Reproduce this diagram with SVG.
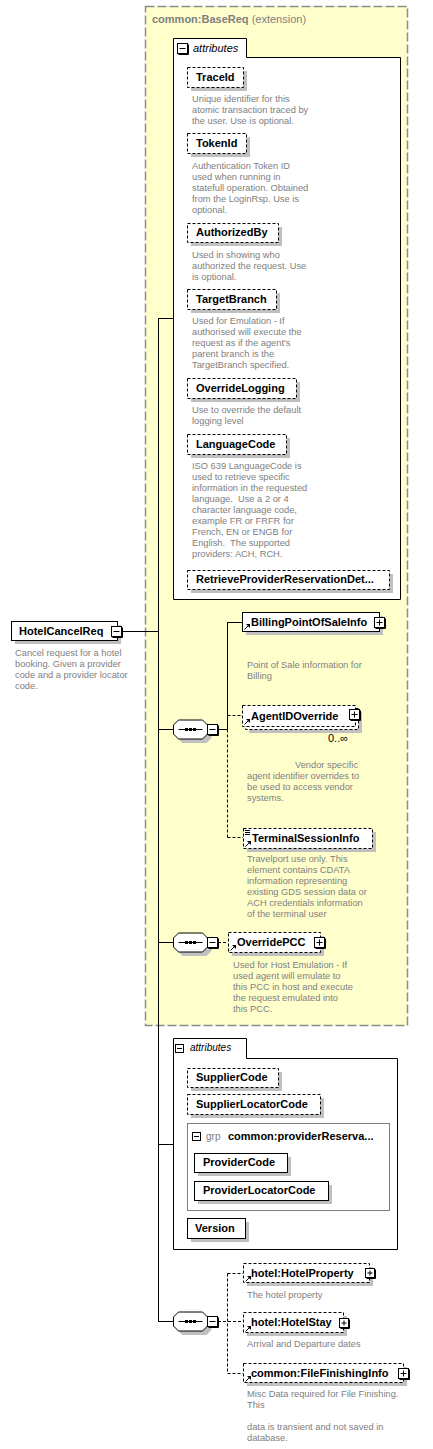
<svg xmlns="http://www.w3.org/2000/svg" xmlns:xlink="http://www.w3.org/1999/xlink" width="433" height="1449" viewBox="0 0 433 1449">
<style>
.lbl{font-family:"Liberation Sans",Arial,sans-serif;font-size:11px;font-weight:bold;fill:#000}
.desc{font-family:"Liberation Sans",Arial,sans-serif;font-size:9.3px;fill:#808080}
.sh{fill:#C0C0C0}
.opt{fill:#fff;stroke:#000;stroke-width:1;stroke-dasharray:3,2}
.req{fill:#fff;stroke:#000;stroke-width:1}
.ln{fill:none;stroke:#000;stroke-width:1}
.dln{fill:none;stroke:#000;stroke-width:1;stroke-dasharray:3,2}
.attr{fill:#fff;stroke:#000;stroke-width:1}
.ital{font-family:"Liberation Sans",Arial,sans-serif;font-size:11px;font-style:italic;fill:#000}
</style>
<defs>
<g id="minus"><rect x="0.5" y="0.5" width="10" height="10" fill="#fff" stroke="#000"/><path d="M2.5,5.5 H8.5" stroke="#000"/><path d="M11.5,1.5 V11.5 H1.5" fill="none" stroke="#000"/></g>
<g id="plus"><rect x="0.5" y="0.5" width="10" height="10" fill="#fff" stroke="#000"/><path d="M2.5,5.5 H8.5 M5.5,2.5 V8.5" stroke="#000"/><path d="M11.5,1.5 V11.5 H1.5" fill="none" stroke="#000"/></g>
<g id="plusS"><rect x="0.5" y="0.5" width="9" height="9" fill="#fff" stroke="#000"/><path d="M2.5,5 H7.5 M5,2.5 V7.5" stroke="#000"/><path d="M10.5,1.5 V10.5 H1.5" fill="none" stroke="#000"/></g>
<g id="minusS"><rect x="0.5" y="0.5" width="8" height="8" fill="#fff" stroke="#000"/><path d="M2,4.5 H7" stroke="#000"/></g>
<g id="ref"><path d="M0.5,5.5 L4.5,1.5" stroke="#000" fill="none"/><path d="M2,0 H6 V4 Z" fill="#000"/></g>
<g id="seq">
<polygon points="9,4 33,4 38,9 38,18 33,23 9,23 4,18 4,9" fill="#C0C0C0"/>
<polygon points="5,0 29,0 34,5 34,14 29,19 5,19 0,14 0,5" fill="#fff" stroke="#000"/>
<path d="M5,9.5 H29" stroke="#000"/>
<rect x="11.5" y="8" width="3" height="3" fill="#000"/><rect x="15.5" y="8" width="3" height="3" fill="#000"/><rect x="19.5" y="8" width="3" height="3" fill="#000"/>
</g>
</defs>

<rect x="0" y="0" width="433" height="1449" fill="#fff"/>

<g id="BaseReq">
<rect x="145.5" y="6.5" width="262" height="1019" fill="#FFFFCC" stroke="#8c8c8c" stroke-width="1.5" stroke-dasharray="9,3"/>
<text x="152" y="23" style="font-family:'Liberation Sans',Arial,sans-serif;font-size:11px;fill:#808080"><tspan font-weight="bold">common:BaseReq</tspan> (extension)</text>
</g>

<g id="connectors">
<path class="ln" d="M158.5,318 V1321.5 M158,318.5 H173 M122,631.5 H158 M158,729.5 H174 M218,729.5 H227.5 M227.5,622.5 V729.5 M227,622.5 H242"/>
<path class="dln" d="M227.5,729.5 V837.5 M227.5,715.5 H242 M227.5,837.5 H243"/>
<path class="ln" d="M158,942.5 H174"/>
<path class="dln" d="M218,942.5 H228"/>
<path class="ln" d="M158,1144.5 H173 M158,1321.5 H174"/>
<path class="dln" d="M218,1321.5 H243 M227.5,1273.5 V1373.5 M227.5,1273.5 H243 M227.5,1373.5 H243"/>
</g>

<g id="attributes1">
<path class="attr" d="M173.5,599.5 V38.5 H246.5 V57.5 H400.5 V599.5 Z"/>
<use xlink:href="#minus" x="177" y="43"/>
<text class="ital" x="193" y="52">attributes</text>
</g>

<g id="TraceId">
<rect class="sh" x="191" y="71" width="56" height="20"/>
<rect class="opt" x="187.5" y="67.5" width="56" height="20"/>
<text class="lbl" x="196" y="81">TraceId</text>
<text class="desc" x="192" y="102"><tspan x="192">Unique identifier for this</tspan><tspan x="192" dy="11">atomic transaction traced by</tspan><tspan x="192" dy="11">the user. Use is optional.</tspan></text>
</g>

<g id="TokenId">
<rect class="sh" x="191" y="137" width="59" height="20"/>
<rect class="opt" x="187.5" y="133.5" width="59" height="20"/>
<text class="lbl" x="196" y="147">TokenId</text>
<text class="desc" y="169"><tspan x="192">Authentication Token ID</tspan><tspan x="192" dy="11">used when running in</tspan><tspan x="192" dy="11">statefull operation. Obtained</tspan><tspan x="192" dy="11">from the LoginRsp. Use is</tspan><tspan x="192" dy="11">optional.</tspan></text>
</g>

<g id="AuthorizedBy">
<rect class="sh" x="191" y="227" width="91" height="19"/>
<rect class="opt" x="187.5" y="223.5" width="91" height="19"/>
<text class="lbl" x="196" y="236">AuthorizedBy</text>
<text class="desc" y="258"><tspan x="192">Used in showing who</tspan><tspan x="192" dy="11">authorized the request. Use</tspan><tspan x="192" dy="11">is optional.</tspan></text>
</g>

<g id="TargetBranch">
<rect class="sh" x="191" y="293" width="89" height="20"/>
<rect class="opt" x="187.5" y="289.5" width="89" height="20"/>
<text class="lbl" x="196" y="303">TargetBranch</text>
<text class="desc" y="324"><tspan x="192">Used for Emulation - If</tspan><tspan x="192" dy="11">authorised will execute the</tspan><tspan x="192" dy="11">request as if the agent's</tspan><tspan x="192" dy="11">parent branch is the</tspan><tspan x="192" dy="11">TargetBranch specified.</tspan></text>
</g>

<g id="OverrideLogging">
<rect class="sh" x="191" y="382" width="109" height="20"/>
<rect class="opt" x="187.5" y="378.5" width="109" height="20"/>
<text class="lbl" x="196" y="392">OverrideLogging</text>
<text class="desc" y="413"><tspan x="192">Use to override the default</tspan><tspan x="192" dy="11">logging level</tspan></text>
</g>

<g id="LanguageCode">
<rect class="sh" x="191" y="438" width="99" height="20"/>
<rect class="opt" x="187.5" y="434.5" width="99" height="20"/>
<text class="lbl" x="196" y="448">LanguageCode</text>
<text class="desc" y="469" xml:space="preserve"><tspan x="192">ISO 639 LanguageCode is</tspan><tspan x="192" dy="11">used to retrieve specific</tspan><tspan x="192" dy="11">information in the requested</tspan><tspan x="192" dy="11">language.  Use a 2 or 4</tspan><tspan x="192" dy="11">character language code,</tspan><tspan x="192" dy="11">example FR or FRFR for</tspan><tspan x="192" dy="11">French, EN or ENGB for</tspan><tspan x="192" dy="11">English.  The supported</tspan><tspan x="192" dy="11">providers: ACH, RCH.</tspan></text>
</g>

<g id="RetrieveProviderReservationDetails">
<rect class="sh" x="191" y="574" width="202" height="19"/>
<rect class="opt" x="187.5" y="570.5" width="202" height="19"/>
<text class="lbl" x="196" y="583">RetrieveProviderReservationDet...</text>
</g>

<g id="HotelCancelReq">
<rect class="sh" x="15" y="625" width="106" height="19"/>
<rect class="req" x="11.5" y="621.5" width="106" height="19"/>
<text class="lbl" x="19" y="635">HotelCancelReq</text>
<use xlink:href="#minus" x="111" y="626"/>
<text class="desc" y="656"><tspan x="15">Cancel request for a hotel</tspan><tspan x="15" dy="11">booking. Given a provider</tspan><tspan x="15" dy="11">code and a provider locator</tspan><tspan x="15" dy="11">code.</tspan></text>
</g>

<g id="sequence1">
<use xlink:href="#seq" x="173.5" y="720"/>
<use xlink:href="#minus" x="207" y="724"/>
</g>

<g id="BillingPointOfSaleInfo">
<rect class="sh" x="246" y="616" width="137" height="19"/>
<rect class="req" x="242.5" y="612.5" width="137" height="19"/>
<use xlink:href="#ref" x="244" y="624"/>
<text class="lbl" x="251" y="626">BillingPointOfSaleInfo</text>
<use xlink:href="#plus" x="374" y="617"/>
<text class="desc" y="668"><tspan x="247">Point of Sale information for</tspan><tspan x="247" dy="11">Billing</tspan></text>
</g>

<g id="AgentIDOverride">
<rect class="sh" x="249" y="712" width="113" height="21"/>
<rect class="opt" x="245.5" y="708.5" width="113" height="21"/>
<rect class="opt" x="242.5" y="705.5" width="113" height="21"/>
<use xlink:href="#ref" x="244" y="719"/>
<text class="lbl" x="251" y="720">AgentIDOverride</text>
<use xlink:href="#plus" x="349" y="709"/>
<text x="328" y="742" style="font-family:'Liberation Sans',Arial,sans-serif;font-size:11px;fill:#000">0..∞</text>
<text class="desc" y="768"><tspan x="295">Vendor specific</tspan><tspan x="247" dy="11">agent identifier overrides to</tspan><tspan x="247" dy="11">be used to access vendor</tspan><tspan x="247" dy="11">systems.</tspan></text>
</g>

<g id="TerminalSessionInfo">
<rect class="sh" x="247" y="832" width="129" height="20"/>
<rect class="opt" x="243.5" y="828.5" width="129" height="20"/>
<path d="M245,830.5 H250 M245,832.5 H250 M245,834.5 H250" stroke="#000" stroke-width="1"/>
<use xlink:href="#ref" x="245" y="841"/>
<text class="lbl" x="252" y="842">TerminalSessionInfo</text>
<text class="desc" y="862"><tspan x="247">Travelport use only. This</tspan><tspan x="247" dy="11">element contains CDATA</tspan><tspan x="247" dy="11">information representing</tspan><tspan x="247" dy="11">existing GDS session data or</tspan><tspan x="247" dy="11">ACH credentials information</tspan><tspan x="247" dy="11">of the terminal user</tspan></text>
</g>

<g id="sequence2">
<use xlink:href="#seq" x="173.5" y="933"/>
<use xlink:href="#minus" x="207" y="937"/>
</g>

<g id="OverridePCC">
<rect class="sh" x="232" y="936" width="92" height="20"/>
<rect class="opt" x="228.5" y="932.5" width="92" height="20"/>
<use xlink:href="#ref" x="230" y="945"/>
<text class="lbl" x="237" y="946">OverridePCC</text>
<use xlink:href="#plus" x="314" y="937"/>
<text class="desc" y="968"><tspan x="233">Used for Host Emulation - If</tspan><tspan x="233" dy="11">used agent will emulate to</tspan><tspan x="233" dy="11">this PCC in host and execute</tspan><tspan x="233" dy="11">the request emulated into</tspan><tspan x="233" dy="11">this PCC.</tspan></text>
</g>

<g id="attributes2">
<path class="attr" d="M173.5,1249.5 V1038.5 H246.5 V1058.5 H397.5 V1249.5 Z"/>
<use xlink:href="#minusS" x="175" y="1044"/>
<text class="ital" x="190" y="1051" style="font-size:10px">attributes</text>
</g>

<g id="SupplierCode">
<rect class="sh" x="191" y="1072" width="91" height="19"/>
<rect class="opt" x="187.5" y="1068.5" width="91" height="19"/>
<text class="lbl" x="196" y="1081">SupplierCode</text>
</g>

<g id="SupplierLocatorCode">
<rect class="sh" x="191" y="1098" width="133" height="20"/>
<rect class="opt" x="187.5" y="1094.5" width="133" height="20"/>
<text class="lbl" x="196" y="1108">SupplierLocatorCode</text>
</g>

<g id="providerReservation">
<rect x="187.5" y="1123.5" width="202" height="87" fill="#fff" stroke="#808080"/>
<use xlink:href="#minusS" x="192" y="1132"/>
<text x="206" y="1140" style="font-family:'Liberation Sans',Arial,sans-serif;font-size:10px;fill:#808080">grp</text>
<text class="lbl" x="228" y="1140">common:providerReserva...</text>
</g>

<g id="ProviderCode">
<rect class="sh" x="198" y="1157" width="93" height="19"/>
<rect class="req" x="194.5" y="1153.5" width="93" height="19"/>
<text class="lbl" x="203" y="1166">ProviderCode</text>
</g>

<g id="ProviderLocatorCode">
<rect class="sh" x="198" y="1185" width="134" height="19"/>
<rect class="req" x="194.5" y="1181.5" width="134" height="19"/>
<text class="lbl" x="203" y="1194">ProviderLocatorCode</text>
</g>

<g id="Version">
<rect class="sh" x="191" y="1222" width="58" height="20"/>
<rect class="req" x="187.5" y="1218.5" width="58" height="20"/>
<text class="lbl" x="195" y="1232">Version</text>
</g>

<g id="sequence3">
<use xlink:href="#seq" x="173.5" y="1312"/>
<use xlink:href="#minus" x="207" y="1316"/>
</g>

<g id="HotelProperty">
<rect class="sh" x="247" y="1267" width="126" height="19"/>
<rect class="opt" x="243.5" y="1263.5" width="126" height="19"/>
<use xlink:href="#ref" x="245" y="1276"/>
<text class="lbl" x="251" y="1277">hotel:HotelProperty</text>
<use xlink:href="#plusS" x="365" y="1268"/>
<text class="desc" x="247" y="1298">The hotel property</text>
</g>

<g id="HotelStay">
<rect class="sh" x="247" y="1316" width="100" height="20"/>
<rect class="opt" x="243.5" y="1312.5" width="100" height="20"/>
<use xlink:href="#ref" x="245" y="1326"/>
<text class="lbl" x="251" y="1326">hotel:HotelStay</text>
<use xlink:href="#plusS" x="339" y="1318"/>
<text class="desc" x="247" y="1347">Arrival and Departure dates</text>
</g>

<g id="FileFinishingInfo">
<rect class="sh" x="247" y="1367" width="160" height="19"/>
<rect class="opt" x="243.5" y="1363.5" width="160" height="19"/>
<use xlink:href="#ref" x="245" y="1376"/>
<text class="lbl" x="251" y="1377">common:FileFinishingInfo</text>
<use xlink:href="#plus" x="398" y="1368"/>
<text class="desc" y="1397"><tspan x="247">Misc Data required for File Finishing.</tspan><tspan x="247" dy="11">This</tspan><tspan x="247" dy="22">data is transient and not saved in</tspan><tspan x="247" dy="11">database.</tspan></text>
</g>
</svg>
